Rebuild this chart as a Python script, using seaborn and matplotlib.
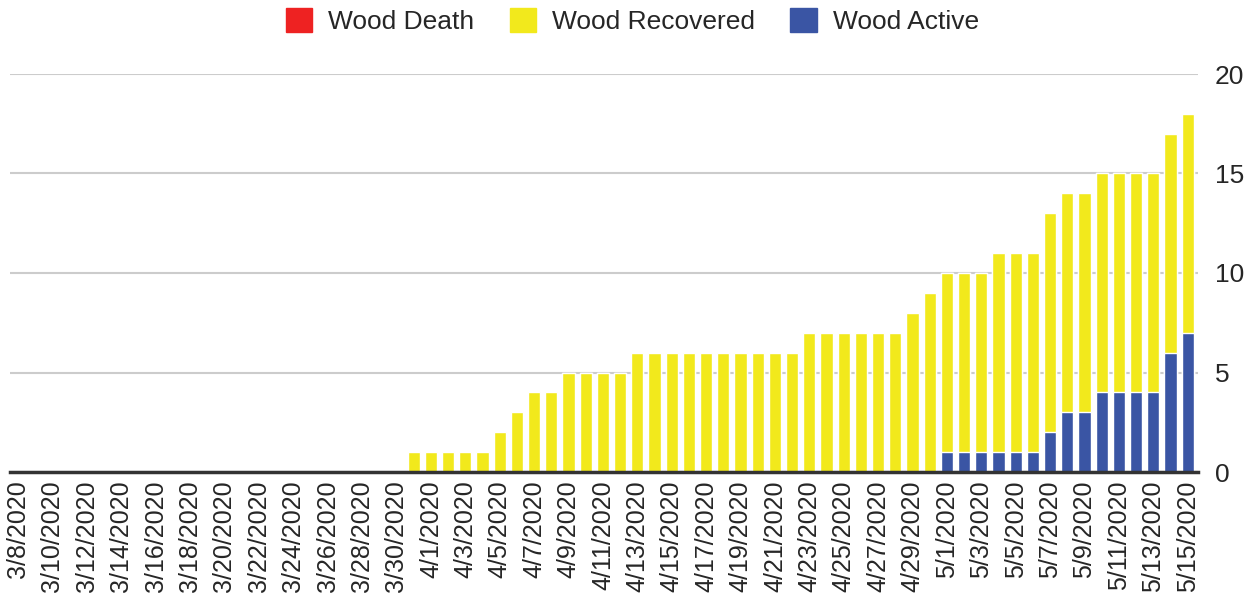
"""
    Casos Wood: activos, recuperados y muertes por día
"""
import pandas as pd
import matplotlib
matplotlib.use('Agg')
import matplotlib.pyplot as plt
from matplotlib.patches import Patch
import seaborn as sns

# Datos (3/8/2020 a 5/15/2020)
fechas = pd.date_range('2020-03-08', '2020-05-15', freq='D')
etiquetas = [f'{d.month}/{d.day}/{d.year}' for d in fechas]

activos = [0] * 23 + [0] * 31 + [1, 1, 1, 1, 1, 1, 2, 3, 3, 4, 4, 4, 4, 6, 7]
recuperados = ([0] * 23
               + [1, 1, 1, 1, 1, 2, 3, 4, 4]
               + [5, 5, 5, 5]
               + [6] * 10
               + [7] * 6
               + [8, 9]
               + [9, 9, 9, 10, 10, 10, 11, 11, 11, 11, 11, 11, 11, 11, 11])
muertes = [0] * 69

df = pd.DataFrame({'fecha': etiquetas, 'activos': activos,
                   'recuperados': recuperados, 'muertes': muertes})
df['rec_total'] = df['activos'] + df['recuperados']
df['total'] = df['rec_total'] + df['muertes']

rojo = '#ee2222'
amarillo = '#f2e91c'
azul = '#3a55a4'

sns.set_style('white')
plt.rcParams['font.family'] = ['Liberation Sans', 'DejaVu Sans']

fig = plt.figure(figsize=(12.52, 6.10), dpi=100)
ax = fig.add_axes([10 / 1252, 138 / 610, 1188 / 1252, 398 / 610])

# Barras superpuestas: total (muertes), recuperados + activos, activos
sns.barplot(data=df, x='fecha', y='total', color=rojo, width=0.7,
            saturation=1, ax=ax, zorder=3)
sns.barplot(data=df, x='fecha', y='rec_total', color=amarillo, width=0.7,
            saturation=1, ax=ax, zorder=3)
sns.barplot(data=df, x='fecha', y='activos', color=azul, width=0.7,
            saturation=1, ax=ax, zorder=3)

ax.set_xlim(-0.47, 68.6)
ax.set_ylim(0, 20)
ax.set_yticks([0, 5, 10, 15, 20])
ax.yaxis.tick_right()
ax.tick_params(axis='y', length=0, labelsize=19, pad=12)
ax.tick_params(axis='x', length=0, labelsize=18, pad=6)
ax.set_xticks(range(0, 69, 2))
ax.set_xticklabels(etiquetas[::2], rotation=90)
ax.set_xlabel('')
ax.set_ylabel('')
ax.grid(axis='y', color='#cccccc', linewidth=1.5, zorder=0)
for s in ['top', 'left', 'right']:
    ax.spines[s].set_visible(False)
ax.spines['bottom'].set_color('#333333')
ax.spines['bottom'].set_linewidth(2.5)
ax.spines['bottom'].set_zorder(4)

handles = [Patch(color=rojo, label='Wood Death'),
           Patch(color=amarillo, label='Wood Recovered'),
           Patch(color=azul, label='Wood Active')]
fig.legend(handles=handles, loc='center', bbox_to_anchor=(0.505, 1 - 21 / 610),
           ncol=3, frameon=False, fontsize=19, handlelength=1.0,
           handleheight=1.0, handletextpad=0.6, columnspacing=1.35,
           borderpad=0)

plt.savefig('out.png', dpi=100)
